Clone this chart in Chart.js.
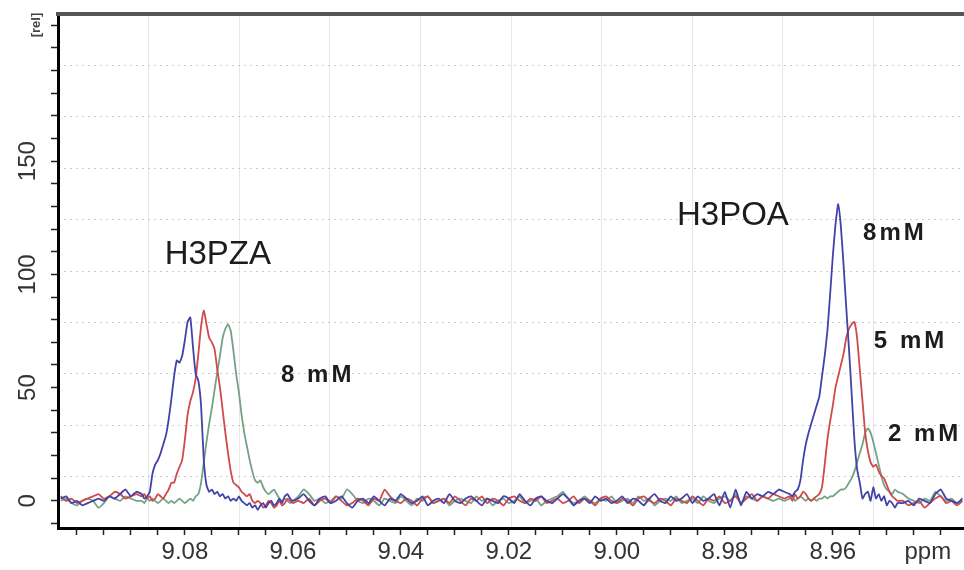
<!DOCTYPE html>
<html>
<head>
<meta charset="utf-8">
<script src="https://cdn.jsdelivr.net/npm/chart.js@4.4.1/dist/chart.umd.min.js"></script>
<style>
  html, body { margin: 0; padding: 0; background: #ffffff; overflow: hidden; }
  canvas { display: block; }
</style>
</head>
<body>
<canvas id="c" width="964" height="570"></canvas>
<script>
// ---------------- DATA ----------------
// sampling of the spectrum (ppm): [from, to, step]
const ppmSegments = [
  [9.103, 9.089, 0.001],
  [9.088, 9.060, 0.0005],
  [9.059, 8.969, 0.001],
  [8.968, 8.948, 0.0005],
  [8.947, 8.936, 0.001]
];

// intensities [rel]
const spec8mM = [ // blue
  1, 2, -1, 0, -2, -1, 0, 1, 0, 2, 1, 3, 5, 2, 4,
  3, 1, 2, 4, 12, 16, 18, 21, 25, 29,
  36, 45, 55, 62, 61, 64, 71, 79, 81, 68,
  56, 53, 42, 18, 7, 4, 5, 3, 4, 2,
  3, 1, 2, 0, 1, 0, 2, 0, -1, -2,
  -1, -3, -2, -4, -2, -1, -3, -1, 0, -2,
  -1, 1, -1, 2, 3, 1, 0,
  1, 3, 0, -2, 1, 2, -1, 0, 2, -1,
  -3, 0, 1, -1, 2, 0, -2, 1, 0, 3,
  1, -1, 0, 2, -2, 0, 1, -1, 3, 0,
  -1, 1, 2, 0, -2, 1, 0, -1, 2, 1,
  -1, 3, 0, -2, 1, 2, 0, -1, 1, 3,
  1, -2, 0, 1, -1, 2, 0, 1, -1, 0,
  2, -1, 1, 0, -2, 1, 3, 0, -1, 2,
  0, 1, 3, -1, 2, 0, 1, 3, -2, 4,
  -3, 5, -2, 4, 1, 3, 2, 4, 3, 5,
  4,
  3, 2, 4, 5, 9, 18, 25, 30, 34, 38,
  42, 46, 55, 64, 75, 91, 108, 122, 131, 121,
  104, 85, 67, 47, 27, 14, 8, 1, 3, 4,
  0, 6, 1, 3, 0, 2, -2, 0, -1, -3,
  -1,
  -1, 0, -2, 1, 0, -1, 3, 5, 1, 0, -1, 1
];
const spec5mM = [ // red
  2, 0, 1, -1, 0, 1, 2, 3, 1, 2, 4, 3, 1, 2, 3,
  2, 3, 1, 2, 0, 1, 3, 2, 1, 3,
  5, 8, 8, 12, 15, 18, 27, 38, 44, 48,
  54, 65, 77, 84, 78, 72, 70, 67, 58, 50,
  40, 30, 21, 13, 8, 7, 6, 4, 3, 2,
  3, 0, -1, 0, -1, -3, -2, 0, -1, -3,
  -2, 0, -2, -1, 1, 0, -1,
  0, -1, 1, -2, 0, 1, -1, 2, 0, -2,
  -1, 1, 0, -2, 1, 0, 5, 2, 0, -1,
  1, 0, -2, 1, 2, -1, 0, 1, -1, 2,
  0, -2, 1, 0, 2, -1, 1, 0, -2, 1,
  2, 0, -1, 1, 0, 2, -1, 0, 1, -1,
  0, 2, -1, 1, 0, -2, 1, 2, 0, -1,
  1, 0, -2, 1, 2, 0, -1, 1, 0, -2,
  1, 0, -1, 2, 0, -2, 1, 0, 2, -1,
  0, 2, -1, 1, 3, 0, 2, 1, 3, 2,
  1,
  2, 0, 3, 1, 2, 4, 3, 1, 0, 1,
  2, 3, 6, 16, 27, 35, 42, 50, 55, 60,
  65, 72, 76, 78, 79, 72, 58, 44, 30, 22,
  17, 15, 16, 13, 11, 10, 7, 4, 2, 1,
  0,
  0, -2, -1, 0, -3, -1, 1, 2, -1, 0, -2, 0
];
const spec2mM = [ // green
  0, 1, -1, -2, 0, 1, 0, -3, -1, 2, 1, 0, 2, 1, 0,
  0, -1, 1, 0, 1, 0, -1, 0, 1, 0,
  -1, 0, -1, 0, 1, 0, -1, 0, 1, 0,
  2, 3, 8, 17, 26, 34, 41, 49, 57, 64,
  72, 76, 78, 75, 66, 56, 48, 38, 30, 24,
  18, 13, 9, 8, 9, 6, 4, 3, 4, 5,
  3, 1, 0, 1, 0, -1, 0,
  2, 5, 3, 0, 1, -1, 0, 2, 1, 5,
  3, 0, -1, 1, 0, -2, 1, 0, -1, 2,
  0, -2, 1, 0, 2, -1, 0, 1, -2, 0,
  1, 0, -1, 2, 0, 1, -2, 0, 1, -1,
  0, 2, -1, 0, 1, -2, 0, 1, 2, 4,
  1, -1, 0, 2, 0, -1, 1, 0, 2, -1,
  0, 1, -1, 2, 0, 1, -2, 0, 1, 0,
  2, -1, 0, 1, -1, 2, 0, -1, 1, 2,
  0, 3, -1, 2, 1, 0, 2, 1, 0, 1,
  0,
  1, 2, 0, 1, 2, 1, 0, 1, 0, 1,
  0, 1, 1, 2, 1, 2, 2, 3, 4, 5,
  5, 6, 8, 10, 13, 17, 21, 25, 30, 32,
  30, 26, 21, 16, 11, 7, 5, 4, 3, 5,
  4,
  3, 1, 0, -1, 1, 0, 4, 2, 0, 1, -1, 0
];

const seriesNames = ['8 mM', '5 mM', '2 mM'];
const xTickLabels = ['9.08', '9.06', '9.04', '9.02', '9.00', '8.98', '8.96'];
const yTickLabels = [0, 50, 100, 150];
const xUnit = 'ppm';
const yUnit = '[rel]';

// text notes placed in data coordinates
const notes = [
  { text: 'H3PZA', ppm: 9.0739, val: 108.5, kind: 'title' },
  { text: 'H3POA', ppm: 8.9785, val: 125.8, kind: 'title' },
  { text: '8 mM',  ppm: 9.0554, val: 55.5,  kind: 'conc' },
  { text: '8mM',   ppm: 8.9485, val: 118.0, kind: 'conc' },
  { text: '5 mM',  ppm: 8.9456, val: 70.5,  kind: 'conc' },
  { text: '2 mM',  ppm: 8.9430, val: 29.5,  kind: 'conc' }
];

// ---------------- BUILD ----------------
const ppm = [];
for (const [a, b, s] of ppmSegments) {
  const n = Math.round((a - b) / s);
  for (let k = 0; k <= n; k++) ppm.push(+(a - k * s).toFixed(4));
}
const toPts = arr => ppm.map((x, i) => ({ x, y: arr[i] }));
if (spec8mM.length !== ppm.length || spec5mM.length !== ppm.length || spec2mM.length !== ppm.length) {
  console.error('length mismatch', ppm.length, spec8mM.length, spec5mM.length, spec2mM.length);
}

const FONT = '"Liberation Sans", Arial, Helvetica, sans-serif';
Chart.defaults.font.family = FONT;

const textPlugin = {
  id: 'texts',
  afterDraw(chart) {
    const { ctx, scales: { x, y } } = chart;
    ctx.save();
    // y tick labels (rotated)
    ctx.fillStyle = '#333333';
    ctx.font = '24px ' + FONT;
    ctx.textAlign = 'center';
    ctx.textBaseline = 'middle';
    yTickLabels.forEach(v => {
      ctx.save();
      ctx.translate(28, y.getPixelForValue(v));
      ctx.rotate(-Math.PI / 2);
      ctx.fillText(String(v), 0, 0);
      ctx.restore();
    });
    // y unit
    ctx.save();
    ctx.font = 'bold 13px ' + FONT;
    ctx.fillStyle = '#444';
    ctx.translate(36, 25);
    ctx.rotate(-Math.PI / 2);
    ctx.fillText(yUnit, 0, 0);
    ctx.restore();
    // x unit
    ctx.font = '24px ' + FONT;
    ctx.fillStyle = '#333333';
    ctx.fillText(xUnit, x.getPixelForValue(8.9424), x.top + 7 + 3 + 14.4);
    // notes
    notes.forEach(n => {
      if (n.kind === 'title') {
        ctx.font = '33px ' + FONT;
        ctx.fillStyle = '#1c1c1c';
        ctx.letterSpacing = '0px';
      } else {
        ctx.font = 'bold 24px ' + FONT;
        ctx.fillStyle = '#1c1c1c';
        ctx.letterSpacing = '3px';
      }
      ctx.fillText(n.text, x.getPixelForValue(n.ppm), y.getPixelForValue(n.val));
    });
    ctx.restore();
  }
};

const mkDs = (label, arr, color) => ({
  label, data: toPts(arr), borderColor: color, backgroundColor: color,
  borderWidth: 1.8, pointRadius: 0, tension: 0.15, fill: false
});

new Chart(document.getElementById('c'), {
  type: 'line',
  data: {
    datasets: [
      mkDs(seriesNames[0], spec8mM, '#4242a8'),
      mkDs(seriesNames[1], spec5mM, '#cf4a4a'),
      mkDs(seriesNames[2], spec2mM, '#74a285')
    ]
  },
  options: {
    responsive: false,
    animation: false,
    devicePixelRatio: 1,
    layout: { padding: { top: 14, left: 0, right: 0, bottom: 0 } },
    plugins: { legend: { display: false }, tooltip: { enabled: false } },
    scales: {
      x: {
        type: 'linear', position: 'bottom', reverse: true,
        min: 8.9357, max: 9.1035,
        afterFit: s => { s.height = 42; },
        ticks: {
          stepSize: 0.005, includeBounds: false, autoSkip: false,
          maxRotation: 0, minRotation: 0, padding: 3,
          color: '#333333', font: { size: 24 },
          callback: v => {
            if (Math.abs(v * 50 - Math.round(v * 50)) > 1e-6) return '';
            const t = (Math.round(v * 50) / 50).toFixed(2);
            return xTickLabels.includes(t) ? t : '';
          }
        },
        grid: { drawOnChartArea: false, drawTicks: true, tickLength: 7, tickColor: '#222', tickWidth: 1.5 },
        border: { display: true, color: '#000', width: 3 }
      },
      y: {
        type: 'linear', position: 'left',
        min: -12, max: 215,
        afterFit: s => { s.width = 58; },
        ticks: { stepSize: 10, includeBounds: false, autoSkip: false, callback: () => '' },
        grid: { drawOnChartArea: false, drawTicks: true, tickLength: 7, tickColor: '#222', tickWidth: 1.5 },
        border: { display: true, color: '#000', width: 3 }
      },
      gx: {
        type: 'linear', position: 'top', min: 0, max: 10,
        afterFit: s => { s.height = 0; },
        afterBuildTicks: s => { s.ticks = s.ticks.filter(t => t.value > 0 && t.value < 10); },
        ticks: { display: false, stepSize: 1 },
        grid: { drawTicks: false, color: '#e6e6e6', lineWidth: 1 },
        border: { display: true, color: '#555', width: 4 }
      },
      gy: {
        type: 'linear', position: 'right', min: 0, max: 10,
        afterFit: s => { s.width = 0; },
        afterBuildTicks: s => { s.ticks = s.ticks.filter(t => t.value > 0 && t.value < 10); },
        ticks: { display: false, stepSize: 1 },
        grid: { drawTicks: false, color: '#cccccc', lineWidth: 1 },
        border: { display: false, dash: [2, 4] }
      }
    }
  },
  plugins: [textPlugin]
});
</script>
</body>
</html>
